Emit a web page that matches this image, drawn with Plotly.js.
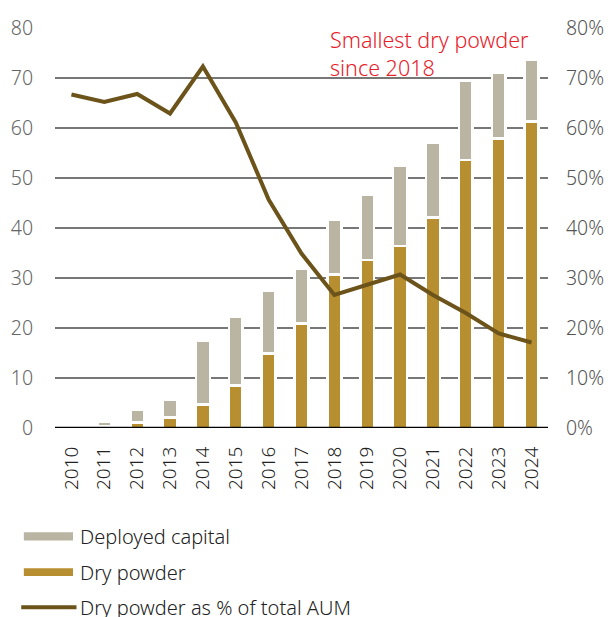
<!DOCTYPE html>
<html>
<head>
<meta charset="utf-8">
<script src="https://cdn.plot.ly/plotly-3.0.1.min.js"></script>
<style>
  html, body { margin: 0; padding: 0; background: #fff; }
  #chart { width: 608px; height: 617px; }
</style>
</head>
<body>
<div id="chart"></div>
<script>
// ---- Data ----
const years = ["2010","2011","2012","2013","2014","2015","2016","2017","2018","2019","2020","2021","2022","2023","2024"];
const dryPowder = [0, 0.3, 1.1, 2.1, 4.7, 8.5, 14.9, 20.9, 30.7, 33.6, 36.4, 42.1, 53.6, 57.9, 61.3];
const deployedCapital = [0, 0.9, 2.5, 3.6, 12.8, 13.7, 12.6, 10.9, 10.9, 13.1, 16.1, 15.0, 15.8, 13.2, 12.3];
const dryPowderPct = [66.7, 65.2, 66.8, 62.9, 72.3, 61.1, 45.7, 34.9, 26.6, 28.6, 30.7, 26.6, 23.0, 18.9, 17.1];
const leftTicks = [0, 10, 20, 30, 40, 50, 60, 70, 80];
const rightTicks = [0, 10, 20, 30, 40, 50, 60, 70, 80];
const seriesNames = ["Deployed capital", "Dry powder", "Dry powder as % of total AUM"];
const noteText = "Smallest dry powder<br>since 2018";

// ---- Styles ----
const FONT = "Noto Sans, Open Sans, Liberation Sans, sans-serif";
const W = 300;
const C_DEPLOYED = "#bab4a3";
const C_DRY = "#b88f30";
const C_LINE = "#6b531a";

const traces = [
  {
    type: "bar", name: seriesNames[1], x: years, y: dryPowder,
    marker: { color: C_DRY, line: { color: "#ffffff", width: 2.5 } },
    width: 0.42, showlegend: false, hoverinfo: "skip"
  },
  {
    type: "bar", name: seriesNames[0], x: years, y: deployedCapital,
    marker: { color: C_DEPLOYED, line: { color: "#ffffff", width: 2.5 } },
    width: 0.42, showlegend: false, hoverinfo: "skip"
  },
  {
    type: "scatter", mode: "lines", name: seriesNames[2], x: years, y: dryPowderPct,
    yaxis: "y2", line: { color: C_LINE, width: 4 }, showlegend: false, hoverinfo: "skip"
  }
];

// manual legend (wide swatches like the reference)
const legendRows = [
  { name: seriesNames[0], color: C_DEPLOYED, kind: "bar", y0: -0.2605, y1: -0.2815, yc: -0.2712 },
  { name: seriesNames[1], color: C_DRY, kind: "bar", y0: -0.3505, y1: -0.3697, yc: -0.3600 },
  { name: seriesNames[2], color: C_LINE, kind: "line", y0: -0.448, y1: -0.448, yc: -0.4475 }
];
const shapes = [
  { type: "line", xref: "paper", yref: "y", x0: 0, x1: 1, y0: 0, y1: 0,
    line: { color: "#000000", width: 2.5 }, layer: "above" }
];
const annotations = [
  { text: noteText, xref: "paper", yref: "paper", x: 0.553, y: 1.012,
    xanchor: "left", yanchor: "top", align: "left", showarrow: false,
    font: { family: FONT, size: 21.5, color: "#e8202a", weight: W } }
];
legendRows.forEach(r => {
  if (r.kind === "bar") {
    shapes.push({ type: "rect", xref: "paper", yref: "paper", x0: -0.0632, x1: 0.0365,
      y0: r.y0, y1: r.y1, fillcolor: r.color, line: { width: 0 } });
  } else {
    shapes.push({ type: "line", xref: "paper", yref: "paper", x0: -0.0685, x1: 0.0436,
      y0: r.y0, y1: r.y1, line: { color: r.color, width: 4 } });
  }
  annotations.push({ text: r.name, xref: "paper", yref: "paper", x: 0.046, y: r.yc,
    xanchor: "left", yanchor: "middle", showarrow: false,
    font: { family: FONT, size: 20, color: "#222222", weight: W } });
});

const layout = {
  width: 608, height: 617,
  margin: { l: 54.5, r: 60, t: 27.7, b: 189, pad: 0 },
  paper_bgcolor: "#ffffff", plot_bgcolor: "#ffffff",
  barmode: "stack",
  font: { family: FONT, size: 19.5, color: "#555555", weight: W },
  showlegend: false,
  xaxis: {
    type: "category", range: [-0.5, 14.5],
    tickangle: -90, ticks: "outside", ticklen: 10, tickcolor: "rgba(0,0,0,0)",
    tickfont: { family: FONT, size: 19, color: "#222222", weight: W },
    showgrid: false, zeroline: false, showline: false, fixedrange: true
  },
  yaxis: {
    range: [0, 80], tickvals: leftTicks, ticktext: leftTicks.map(String),
    ticks: "outside", ticklen: 17, tickcolor: "rgba(0,0,0,0)",
    tickfont: { family: FONT, size: 19.5, color: "#666666", weight: W },
    showgrid: true, gridcolor: "#777777", gridwidth: 1.5,
    zeroline: false, showline: false, fixedrange: true
  },
  yaxis2: {
    overlaying: "y", side: "right",
    range: [0, 80], tickvals: rightTicks, ticktext: rightTicks.map(v => v + "%"),
    ticks: "outside", ticklen: 13, tickcolor: "rgba(0,0,0,0)",
    tickfont: { family: FONT, size: 19.5, color: "#555555", weight: W },
    showgrid: false, zeroline: false, showline: false, fixedrange: true
  },
  shapes: shapes,
  annotations: annotations
};

Plotly.newPlot("chart", traces, layout, { staticPlot: true, displayModeBar: false });
</script>
</body>
</html>
